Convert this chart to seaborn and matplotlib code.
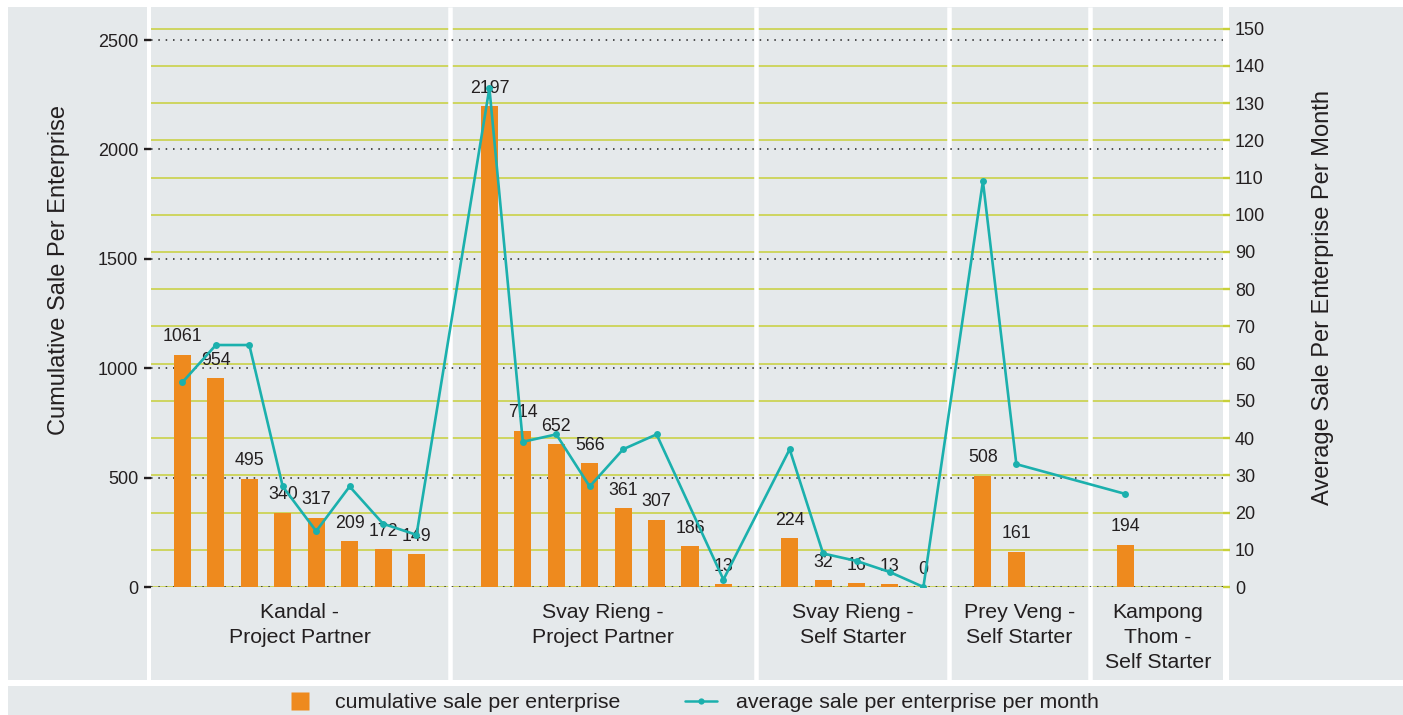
import numpy as np
import pandas as pd
import matplotlib.pyplot as plt
import matplotlib.transforms as mtransforms
from matplotlib.patches import Rectangle
from matplotlib.lines import Line2D
import seaborn as sns

sns.set_theme(style='white')
plt.rcParams['font.family'] = ['Liberation Sans', 'DejaVu Sans']

# data
group_labels = ['Kandal -\nProject Partner', 'Svay Rieng -\nProject Partner',
                'Svay Rieng -\nSelf Starter', 'Prey Veng -\nSelf Starter',
                'Kampong\nThom -\nSelf Starter']
cum_kandal_pp = [1061, 954, 495, 340, 317, 209, 172, 149]
cum_svay_pp = [2197, 714, 652, 566, 361, 307, 186, 13]
cum_svay_ss = [224, 32, 16, 13, 0]
cum_prey_ss = [508, 161]
cum_kampong_ss = [194]
avg_kandal_pp = [55, 65, 65, 27, 15, 27, 17, 14]
avg_svay_pp = [134, 39, 41, 27, 37, 41, np.nan, 2]
avg_svay_ss = [37, 9, 7, 4, 0]
avg_prey_ss = [109, 33]
avg_kampong_ss = [25]

cum_groups = [cum_kandal_pp, cum_svay_pp, cum_svay_ss, cum_prey_ss, cum_kampong_ss]
avg_groups = [avg_kandal_pp, avg_svay_pp, avg_svay_ss, avg_prey_ss, avg_kampong_ss]

# layout of the group panels, in bar slots
group_width = [9.0, 9.16, 5.78, 4.19, 4.08]
group_pad = [1.0, 1.18, 1.0, 1.0, 1.07]

GRAY = '#e5e9eb'
ORANGE = '#ee8a1e'
TEAL = '#1bb0ad'
OLIVE = '#c8d03a'
TXT = '#231f20'

rows = []
left = -1.0
for g, (cum, avg) in enumerate(zip(cum_groups, avg_groups)):
    for i, (c, a) in enumerate(zip(cum, avg)):
        rows.append({'group': g, 'pos': left + group_pad[g] + i, 'cum': c, 'avg': a})
    left += group_width[g]
df = pd.DataFrame(rows)

edges = -1.0 + np.cumsum(group_width)
centers = edges - np.array(group_width) / 2

W, H = 1403, 715
fig = plt.figure(figsize=(W / 100, H / 100), dpi=100, facecolor='white')

def px_rect(x0, y0, x1, y1):
    return [x0 / W, 1 - y1 / H, (x1 - x0) / W, (y1 - y0) / H]

for box in [(8, 7, 147, 680), (151, 7, 1223, 680), (1229, 7, 1403, 680), (8, 686, 1403, 715)]:
    l, b, w, h = px_rect(*box)
    fig.add_artist(Rectangle((l, b), w, h, transform=fig.transFigure,
                             facecolor=GRAY, edgecolor='none', zorder=-1))

ax_grid = fig.add_axes(px_rect(151, 7, 1223, 587))
ax_grid.set_facecolor(GRAY)
ax_bar = ax_grid.twinx()
ax_line = ax_grid.twinx()

sns.barplot(data=df, x='pos', y='cum', native_scale=True, width=0.51, color=ORANGE,
            saturation=1, linewidth=0, errorbar=None, ax=ax_bar)
line_df = df.dropna(subset=['avg'])
sns.lineplot(data=line_df, x='pos', y='avg', color=TEAL, lw=1.9, marker='o',
             markersize=5, markeredgewidth=0, ax=ax_line)

for x, v in zip(df['pos'], df['cum']):
    ax_bar.annotate(str(v), (x, v), xytext=(0, 9.7), textcoords='offset points',
                    ha='center', va='baseline', fontsize=12.8, color=TXT)

ax_grid.set_xlim(-1 + 0.06, edges[-1] - 0.09)
ax_bar.set_ylim(0, 2651)
ax_grid.set_ylim(0, 155.8)
ax_line.set_ylim(0, 155.8)

# tick sides (twinx resets them)
ax_grid.yaxis.tick_right()
ax_bar.yaxis.tick_left()
ax_line.set_yticks([])
ax_grid.set_xticks([])

ax_bar.set_yticks(range(0, 2501, 500))
ax_grid.set_yticks(range(0, 151, 10))
ax_bar.tick_params(axis='y', length=5, width=1.7, color=TXT, pad=4.3, labelsize=13, labelcolor=TXT)
ax_grid.tick_params(axis='y', length=5, width=1.7, color=OLIVE, pad=3.6, labelsize=13, labelcolor=TXT)

ax_grid.set_axisbelow(True)
ax_grid.yaxis.grid(True, color=OLIVE, lw=1.1)
ax_bar.set_axisbelow(True)
ax_bar.yaxis.grid(True, color='#222222', ls=(0, (1, 3.8)), lw=1.1)

for a in (ax_grid, ax_bar, ax_line):
    a.set_xlabel('')
    a.set_ylabel('')
    for s in a.spines.values():
        s.set_visible(False)

# white separators between the groups
for e in edges[:-1]:
    ax_grid.axvline(e, ymin=-(680 - 587) / 580, ymax=1, color='white', lw=3.24,
                    clip_on=False, zorder=1, solid_capstyle='butt')

trans = mtransforms.blended_transform_factory(ax_grid.transData, fig.transFigure)
for c, lab in zip(centers, group_labels):
    for k, part in enumerate(lab.split('\n')):
        ax_grid.text(c, 1 - (618 + 25 * k) / H, part, transform=trans, ha='center',
                     va='baseline', fontsize=15.3, color=TXT)

fig.text(59 / W, 1 - 270 / H, 'Cumulative Sale Per Enterprise', rotation=90,
         ha='center', va='center', fontsize=17, color=TXT)
fig.text(1323 / W, 1 - 297 / H, 'Average Sale Per Enterprise Per Month', rotation=90,
         ha='center', va='center', fontsize=17, color=TXT)

handles = [Line2D([], [], ls='none', marker='s', ms=12.5, mec='none', color=ORANGE),
           Line2D([], [], color=TEAL, lw=1.8, marker='o', ms=4.5, mew=0)]
fig.legend(handles, ['cumulative sale per enterprise', 'average sale per enterprise per month'],
           ncol=2, loc='center left', bbox_to_anchor=(284 / W, 1 - 703 / H), frameon=False,
           fontsize=15.4, handlelength=1.5, handletextpad=0.9, columnspacing=3.0,
           borderpad=0, borderaxespad=0, labelcolor=TXT)

fig.savefig('out.png', dpi=100, facecolor='white')
